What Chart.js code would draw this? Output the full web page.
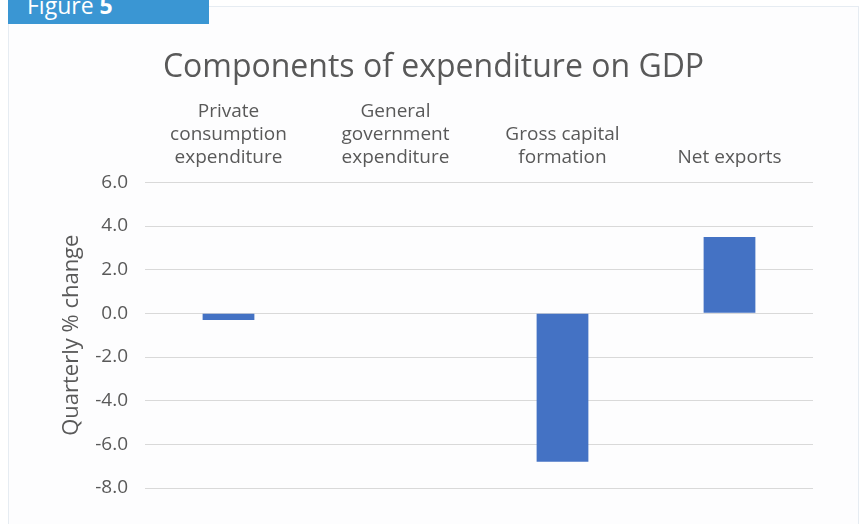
<!DOCTYPE html>
<html>
<head>
<meta charset="utf-8">
<script src="https://cdn.jsdelivr.net/npm/chart.js@4"></script>
<style>
  html, body { margin: 0; padding: 0; background: #fff; }
  body { width: 861px; height: 524px; position: relative; overflow: hidden; font-family: "Open Sans", sans-serif; }
  #panel { position: absolute; left: 8px; top: 6px; width: 849px; height: 530px; border: 1px solid #e6ecf2; background: #fdfdfe; }
  #tab { position: absolute; left: 8px; top: 0; width: 201px; height: 24px; background: #3a96d3; overflow: hidden; }
  #tab span { position: absolute; left: 19px; top: -11px; color: #fff; font-size: 23px; }
  #wrap { position: absolute; left: 0; top: 0; width: 861px; height: 524px; }
</style>
</head>
<body>
<div id="panel"></div>
<div id="tab"><span>Figure <b>5</b></span></div>
<div id="wrap"><canvas id="gdp-chart"></canvas></div>
<script>
// components of expenditure, quarterly % change
const categories = [
  ['Private', 'consumption', 'expenditure'],
  ['General', 'government', 'expenditure'],
  ['Gross capital', 'formation'],
  ['Net exports']
];
const changeValues = [-0.3, 0.0, -6.8, 3.5];
const yTicks = [6, 4, 2, 0, -2, -4, -6, -8];

const textColor = '#595959';
const fontFamily = '"Open Sans", sans-serif';

const ctx = document.getElementById('gdp-chart').getContext('2d');
new Chart(ctx, {
  type: 'bar',
  data: {
    labels: categories,
    datasets: [{
      label: 'Quarterly % change',
      data: changeValues,
      backgroundColor: '#4472c4',
      borderWidth: 0,
      categoryPercentage: 1,
      barPercentage: 0.31
    }]
  },
  options: {
    responsive: true,
    maintainAspectRatio: false,
    animation: false,
    layout: {
      padding: { left: 54, right: 48, top: 0, bottom: 36 }
    },
    scales: {
      x: {
        position: 'top',
        grid: { display: false },
        border: { display: false },
        ticks: {
          color: textColor,
          padding: 5,
          maxRotation: 0,
          autoSkip: false,
          font: { family: fontFamily, size: 19, lineHeight: 1.22 }
        },
        afterFit: function(scale) {
          scale.height = 95;
        }
      },
      y: {
        min: Math.min(...yTicks),
        max: Math.max(...yTicks),
        border: { display: false },
        grid: {
          color: '#d9d9d9',
          lineWidth: 1,
          drawTicks: false
        },
        ticks: {
          stepSize: 2,
          padding: 17,
          color: textColor,
          font: { family: fontFamily, size: 19 },
          callback: function(value) {
            return value.toFixed(1);
          }
        },
        title: {
          display: true,
          text: 'Quarterly % change',
          color: textColor,
          font: { family: fontFamily, size: 22 },
          padding: { top: 5, bottom: 0 }
        },
        afterFit: function(scale) {
          scale.width = 91;
        }
      }
    },
    plugins: {
      legend: { display: false },
      tooltip: { enabled: false },
      title: {
        display: true,
        text: 'Components of expenditure on GDP',
        color: textColor,
        font: { family: fontFamily, size: 32, weight: 'normal' },
        padding: { top: 49, bottom: 0 }
      }
    }
  }
});
</script>
</body>
</html>
